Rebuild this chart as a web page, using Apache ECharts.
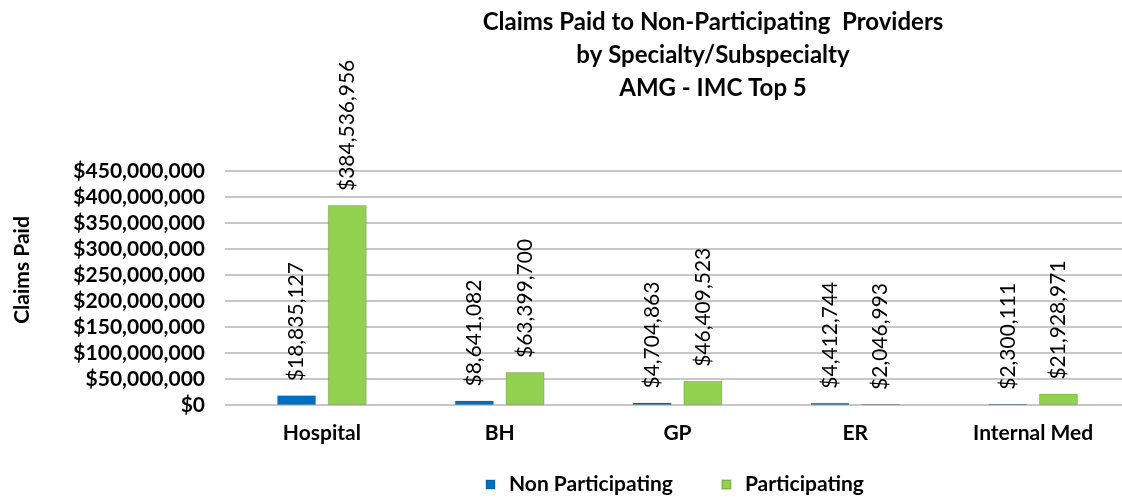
<!DOCTYPE html>
<html>
<head>
<meta charset="utf-8">
<script src="https://cdn.jsdelivr.net/npm/echarts@6/dist/echarts.min.js"></script>
<style>
  html, body { margin: 0; padding: 0; background: #fff; }
  #chart { width: 1122px; height: 498px; }
</style>
</head>
<body>
<div id="chart"></div>
<script>
  /* data */
  var categories = ['Hospital', 'BH', 'GP', 'ER', 'Internal Med'];
  var nonParticipating = [18835127, 8641082, 4704863, 4412744, 2300111];
  var participating = [384536956, 63399700, 46409523, 2046993, 21928971];
  var titleLines = ['Claims Paid to Non-Participating  Providers', 'by Specialty/Subspecialty', 'AMG - IMC Top 5'];
  var yAxisTitle = 'Claims Paid';

  var FONT = 'Lato';
  function money(v) {
    return '$' + Number(v).toLocaleString('en-US');
  }

  var valueLabel = {
    show: true,
    position: 'top',
    rotate: 90,
    align: 'left',
    verticalAlign: 'middle',
    distance: 14,
    fontFamily: FONT,
    fontSize: 21,
    color: '#000',
    formatter: function (p) { return money(p.value); }
  };

  var chart = echarts.init(document.getElementById('chart'));
  var option = {
    animation: false,
    backgroundColor: '#fff',
    title: {
      text: titleLines.join('\n'),
      left: 708,
      textAlign: 'center',
      top: 1,
      textStyle: {
        fontFamily: FONT,
        fontWeight: 'bold',
        fontSize: 24,
        lineHeight: 33,
        color: '#000'
      }
    },
    graphic: [{
      type: 'text',
      x: 22,
      y: 270,
      rotation: Math.PI / 2,
      style: {
        text: yAxisTitle,
        fontFamily: FONT,
        fontWeight: 'bold',
        fontSize: 21,
        fill: '#000',
        align: 'center',
        verticalAlign: 'middle'
      }
    }],
    legend: {
      left: 480,
      top: 469,
      itemWidth: 9,
      itemHeight: 9,
      itemGap: 48,
      icon: 'rect',
      textStyle: {
        fontFamily: FONT,
        fontWeight: 'bold',
        fontSize: 21,
        color: '#000',
        padding: [0, 0, 0, 9]
      },
      data: ['Non Participating', 'Participating']
    },
    grid: {
      left: 233,
      right: -5,
      top: 171,
      bottom: 93
    },
    xAxis: {
      type: 'category',
      data: categories,
      axisLine: { show: true, lineStyle: { color: '#c8c8c8', width: 2 } },
      axisTick: { show: false },
      axisLabel: {
        margin: 18,
        fontFamily: FONT,
        fontWeight: 'bold',
        fontSize: 21,
        color: '#000'
      }
    },
    yAxis: {
      type: 'value',
      min: 0,
      max: 450000000,
      interval: 50000000,
      axisLine: { show: false },
      axisTick: { show: true, length: 8, lineStyle: { color: '#c8c8c8', width: 2 } },
      splitLine: { show: true, lineStyle: { color: '#c8c8c8', width: 2 } },
      axisLabel: {
        margin: 28,
        fontFamily: FONT,
        fontWeight: 'bold',
        fontSize: 21,
        color: '#000',
        formatter: money
      }
    },
    series: [{
      name: 'Non Participating',
      type: 'bar',
      data: nonParticipating,
      barWidth: 39,
      barGap: '30%',
      itemStyle: { color: '#0070c0', borderColor: 'rgba(0,0,0,0.12)', borderWidth: 1 },
      label: valueLabel
    }, {
      name: 'Participating',
      type: 'bar',
      data: participating,
      barWidth: 39,
      itemStyle: { color: '#92d050', borderColor: 'rgba(0,0,0,0.15)', borderWidth: 1 },
      label: valueLabel
    }]
  };
  chart.setOption(option);
</script>
</body>
</html>
